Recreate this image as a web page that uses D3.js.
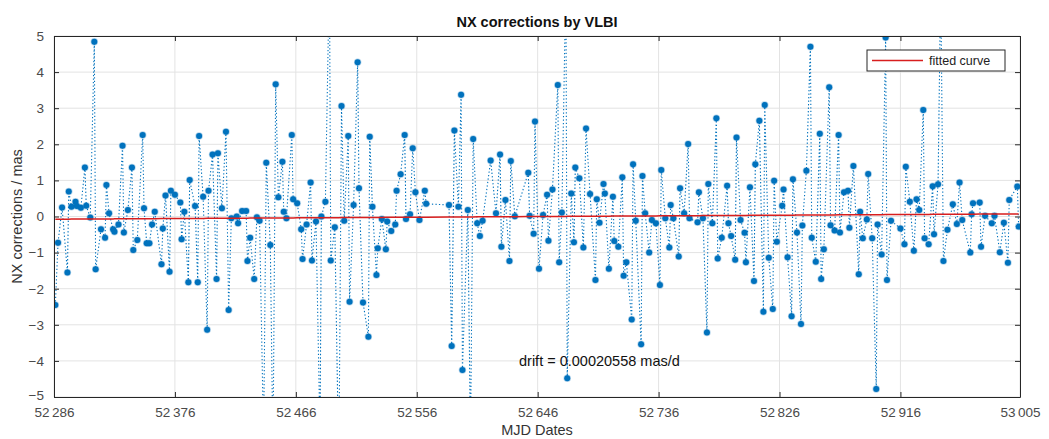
<!DOCTYPE html>
<html>
<head>
<meta charset="utf-8">
<script src="https://cdn.jsdelivr.net/npm/d3@7"></script>
<style>
  body { margin: 0; background: #fff; }
  svg { display: block; font-family: "Liberation Sans", Arial, sans-serif; }
</style>
</head>
<body>
<svg id="chart" width="1049" height="439"></svg>
<script>
// session dates (MJD) and NX corrections (mas)
const mjd = [
  52287, 52289, 52292, 52296, 52297, 52299, 52302, 52303, 52306, 52309,
  52310, 52313, 52316, 52317, 52321, 52324, 52325, 52327, 52330, 52331,
  52334, 52337, 52338, 52341, 52344, 52345, 52348, 52352, 52353, 52355,
  52357, 52359, 52361, 52366, 52367, 52369, 52372, 52373, 52376, 52380,
  52381, 52383, 52386, 52387, 52391, 52393, 52394, 52397, 52400, 52401,
  52404, 52407, 52408, 52411, 52414, 52416, 52418, 52422, 52423, 52426,
  52429, 52430, 52432, 52435, 52437, 52439, 52442, 52444, 52447, 52449,
  52451, 52453, 52456, 52457, 52459, 52463, 52464, 52467, 52470, 52471,
  52474, 52477, 52478, 52481, 52484, 52485, 52488, 52491, 52492, 52495,
  52498, 52500, 52502, 52505, 52506, 52509, 52512, 52513, 52516, 52520,
  52521, 52523, 52526, 52527, 52530, 52533, 52534, 52537, 52540, 52541,
  52544, 52547, 52548, 52551, 52553, 52555, 52558, 52562, 52563, 52580,
  52582, 52584, 52587, 52589, 52590, 52594, 52596, 52598, 52601, 52603,
  52605, 52611, 52615, 52618, 52619, 52622, 52625, 52626, 52629, 52639,
  52640, 52643, 52644, 52647, 52650, 52653, 52654, 52657, 52661, 52662,
  52664, 52667, 52668, 52671, 52673, 52674, 52677, 52680, 52682, 52685,
  52689, 52690, 52692, 52695, 52696, 52699, 52702, 52703, 52706, 52709,
  52710, 52712, 52716, 52717, 52719, 52723, 52724, 52726, 52729, 52731,
  52734, 52737, 52738, 52741, 52744, 52745, 52747, 52751, 52752, 52755,
  52758, 52759, 52765, 52766, 52769, 52772, 52773, 52776, 52779, 52780,
  52783, 52787, 52788, 52790, 52793, 52794, 52797, 52800, 52801, 52804,
  52807, 52808, 52811, 52814, 52815, 52818, 52821, 52822, 52824, 52828,
  52829, 52832, 52835, 52836, 52839, 52842, 52843, 52846, 52849, 52850,
  52853, 52856, 52857, 52859, 52863, 52864, 52867, 52870, 52871, 52874,
  52877, 52878, 52881, 52885, 52886, 52888, 52891, 52892, 52895, 52898,
  52899, 52902, 52905, 52906, 52909, 52916, 52919, 52920, 52923, 52926,
  52928, 52930, 52933, 52934, 52937, 52940, 52941, 52944, 52946, 52948,
  52951, 52955, 52958, 52960, 52962, 52968, 52969, 52970, 52975, 52976,
  52979, 52984, 52986, 52990, 52993, 52996, 52997, 53003, 53004
];
const nx = [
  -2.45, -0.73, 0.25, -1.55, 0.69, 0.27, 0.41, 0.29, 0.24, 1.36,
  0.30, -0.03, 4.84, -1.46, -0.35, -0.59, 0.87, 0.09, -0.35, -0.42,
  -0.22, 1.96, -0.44, 0.18, 1.36, -0.93, -0.65, 2.26, 0.23, -0.74,
  -0.74, -0.22, 0.13, -1.32, -0.33, 0.58, -1.53, 0.71, 0.60, 0.39,
  -0.63, 0.13, -1.82, 1.01, 0.29, -1.82, 2.23, 0.55, -3.14, 0.71,
  1.72, -1.73, 1.75, 0.23, 2.35, -2.59, -0.05, 0.00, -0.19, 0.15,
  0.15, -1.23, -0.59, -1.73, -0.02, -0.12, -6.2, 1.49, -0.79, -6.6,
  3.66, 0.53, 1.52, 0.13, -0.05, 2.26, 0.48, 0.37, -0.35, -1.18,
  -0.22, 0.94, -1.22, -0.14, -6.1, 0.00, 0.41, 6.8, -1.22, -0.30,
  -7.0, 3.06, -0.12, 2.23, -2.36, 0.32, 4.27, 0.78, -2.38, -3.33,
  2.21, 0.27, -1.62, -0.88, -0.07, -0.91, -0.14, -0.40, -0.22, 0.71,
  1.17, 2.26, -0.07, 0.06, 1.89, 0.67, -0.10, 0.71, 0.35, 0.32,
  -3.59, 2.38, 0.27, 3.37, -4.25, 0.18, -6.3, 2.15, -0.19, -0.54,
  -0.12, 1.55, 0.09, 1.72, -0.84, 0.46, -1.23, 1.54, 0.01, 1.21,
  0.02, -0.48, 2.63, -1.45, 0.04, 0.60, -0.67, 0.75, 3.64, -1.27,
  0.11, 6.6, -4.48, 0.64, -0.71, 1.36, 1.06, -0.86, 2.44, 0.62,
  -1.76, 0.48, -0.17, 0.90, 0.64, -1.45, 0.55, -0.68, -0.84, 1.09,
  -1.64, -1.27, -2.85, 1.45, -0.12, -3.54, 1.12, 0.09, -1.00, -0.10,
  -0.19, -1.90, 1.29, -0.05, -0.86, 0.32, -0.05, -1.11, 0.78, 0.09,
  2.01, -0.05, -0.16, 0.67, -0.05, -3.21, 0.90, -0.19, 2.72, -1.16,
  -0.59, 0.85, -0.19, -0.54, -1.20, 2.19, -0.10, -0.45, -1.27, 0.81,
  -1.79, 1.45, 2.65, -2.64, 3.09, -1.14, -2.56, 0.99, -0.70, 0.30,
  0.75, -1.13, -2.76, 1.03, -0.44, -2.98, -0.25, 1.27, 4.70, -0.59,
  -1.25, 2.29, -1.73, -0.91, 3.58, -0.24, -0.39, 2.26, -0.44, 0.67,
  0.71, -0.31, 1.40, -1.60, 0.13, -0.60, -0.08, 1.18, -0.60, -4.78,
  -0.22, -1.05, 4.96, -1.76, -0.12, -0.33, -0.77, 1.38, 0.41, -0.95,
  0.48, 0.18, 2.95, -0.60, -0.77, 0.84, -0.49, 0.89, 6.5, -1.23,
  -0.37, 0.34, -0.21, 0.94, -0.10, -1.00, 0.06, 0.37, 0.39, -0.84,
  0.02, -0.19, 0.02, -0.99, -0.17, -1.28, 0.46, 0.83, -0.28
];
const xTicks = [52286, 52376, 52466, 52556, 52646, 52736, 52826, 52916, 53005];
const yTicks = [-5, -4, -3, -2, -1, 0, 1, 2, 3, 4, 5];
const drift = 0.00020558;   // mas/d
const offset0 = -0.075;     // fit value at first tick

const margin = { left: 54, right: 29, top: 36, bottom: 42 };
const W = 1049, H = 439;
const iw = W - margin.left - margin.right;
const ih = H - margin.top - margin.bottom;

const svg = d3.select('#chart');
const g = svg.append('g').attr('transform', `translate(${margin.left},${margin.top})`);

const x = d3.scaleLinear().domain([52286, 53005]).range([0, iw]);
const y = d3.scaleLinear().domain([-5, 5]).range([ih, 0]);

const fmt = v => String(v).replace(/^(\d{2})(\d{3})$/, '$1\u2009$2');

// grid
g.append('g').selectAll('line').data(xTicks).join('line')
  .attr('x1', d => x(d)).attr('x2', d => x(d)).attr('y1', 0).attr('y2', ih)
  .attr('stroke', '#e3e3e3');
g.append('g').selectAll('line').data(yTicks).join('line')
  .attr('x1', 0).attr('x2', iw).attr('y1', d => y(d)).attr('y2', d => y(d))
  .attr('stroke', '#e3e3e3');

svg.append('defs').append('clipPath').attr('id', 'clip')
  .append('rect').attr('width', iw).attr('height', ih);

const pts = mjd.map((d, i) => ({ t: d, v: nx[i] }));
const plot = g.append('g').attr('clip-path', 'url(#clip)');

plot.append('path').datum(pts)
  .attr('fill', 'none').attr('stroke', '#0072BD').attr('stroke-width', 1.1)
  .attr('stroke-dasharray', '1.3,2.2')
  .attr('d', d3.line().x(d => x(d.t)).y(d => y(d.v)));

plot.selectAll('circle').data(pts).join('circle')
  .attr('cx', d => x(d.t)).attr('cy', d => y(d.v)).attr('r', 3)
  .attr('fill', '#0072BD').attr('stroke', 'rgba(0,114,189,0.3)').attr('stroke-width', 1.5);

// fitted curve
plot.append('path').datum(mjd)
  .attr('fill', 'none').attr('stroke', '#d81e1e').attr('stroke-width', 1.5)
  .attr('d', d3.line().x(d => x(d)).y(d => y(offset0 + drift * (d - 52286))));

// axes box and ticks (MATLAB style, inward)
const axisColor = '#262626';
const xb = d3.axisBottom(x).tickValues(xTicks).tickSizeInner(-5).tickSizeOuter(0).tickPadding(10).tickFormat(fmt);
const xt = d3.axisTop(x).tickValues(xTicks).tickSizeInner(-5).tickSizeOuter(0).tickFormat('');
const yl = d3.axisLeft(y).tickValues(yTicks).tickSizeInner(-5).tickSizeOuter(0).tickPadding(10);
const yr = d3.axisRight(y).tickValues(yTicks).tickSizeInner(-5).tickSizeOuter(0).tickFormat('');

function style(sel, size) {
  sel.selectAll('path,line').attr('stroke', axisColor);
  sel.selectAll('text').attr('fill', '#4a4a4a').attr('font-size', size)
    .attr('font-family', '"Liberation Sans", Arial, sans-serif');
}
g.append('g').attr('transform', `translate(0,${ih})`).call(xb).call(style, 13.5);
g.append('g').call(xt).call(style, 13.5);
const yAxisG = g.append('g').call(yl).call(style, 13.5);
// keep the "-5" label clear of the first date label
yAxisG.selectAll('.tick text').filter(d => d === -5).attr('dy', '0.2em');
g.append('g').attr('transform', `translate(${iw},0)`).call(yr).call(style, 13.5);

// titles
svg.append('text').attr('x', margin.left + iw / 2).attr('y', 27)
  .attr('text-anchor', 'middle').attr('font-size', 14.5).attr('font-weight', 'bold')
  .attr('fill', '#111').text('NX corrections by VLBI');
svg.append('text').attr('x', margin.left + iw / 2).attr('y', 435)
  .attr('text-anchor', 'middle').attr('font-size', 14.5).attr('fill', '#333')
  .text('MJD Dates');
svg.append('text').attr('transform', `translate(22,${margin.top + ih / 2}) rotate(-90)`)
  .attr('text-anchor', 'middle').attr('font-size', 14.5).attr('fill', '#333')
  .text('NX corrections / mas');

// drift annotation
g.append('text').attr('x', 465).attr('y', y(-4) + 5)
  .attr('font-size', 14.5).attr('fill', '#111')
  .text('drift = 0.00020558 mas/d');

// legend
const lg = svg.append('g').attr('transform', 'translate(867,50)');
lg.append('rect').attr('width', 138).attr('height', 21)
  .attr('fill', '#fff').attr('stroke', axisColor).attr('stroke-width', 1);
lg.append('line').attr('x1', 5).attr('x2', 56).attr('y1', 10.5).attr('y2', 10.5)
  .attr('stroke', '#d81e1e').attr('stroke-width', 1.5);
lg.append('text').attr('x', 62).attr('y', 15).attr('font-size', 12.5).attr('fill', '#222')
  .text('fitted curve');
</script>
</body>
</html>
